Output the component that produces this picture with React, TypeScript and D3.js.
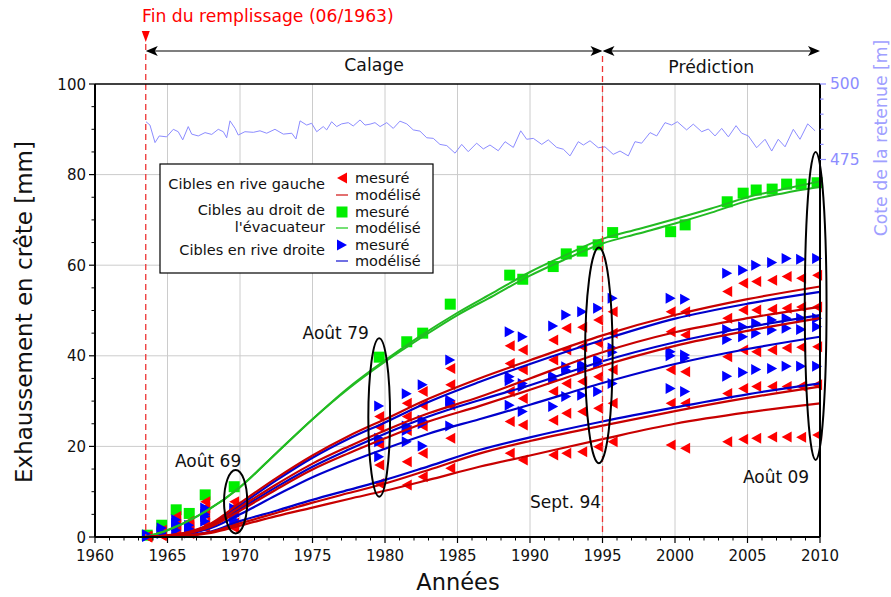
import * as d3 from "d3";

// survey dates (measured points)
const surveyYears = [1963.6, 1964.6, 1965.6, 1966.5, 1967.6, 1969.6, 1979.6, 1981.5, 1982.6, 1984.5, 1988.6, 1989.5, 1991.6, 1992.5, 1993.6, 1994.7, 1995.7, 1999.7, 2000.7, 2003.6, 2004.7, 2005.6, 2006.7, 2007.7, 2008.7, 2009.8];

const greenMeasured = [0.4, 2.6, 6.0, 5.2, 9.3, 11.1, 39.7, 43.1, 45.0, 51.4, 57.8, 56.9, 59.7, 62.5, 63.1, 64.5, 67.2, 67.4, 68.9, 74.0, 75.9, 76.6, 76.8, 77.9, 77.9, 78.2];

const redMeasured = [
  [0.2, 1.5, 4.5, 3.4, 7.8, 7.8, 26.6, 29.5, 32.1, 37.2, 42.2, 41.3, 43.5, 46.1, 46.3, 47.9, 49.7, 49.7, 49.7, 54.2, 56.0, 56.4, 56.7, 57.5, 57.1, 57.8],
  [0.1, 1.0, 3.5, 2.8, 6.5, 6.7, 24.3, 26.6, 29.1, 33.6, 38.3, 36.9, 39.1, 41.3, 42.0, 42.8, 45.0, 45.3, 44.6, 48.3, 50.1, 50.1, 50.3, 50.5, 50.8, 50.8],
  [0.1, 0.8, 2.8, 2.2, 4.9, 5.5, 20.5, 23.5, 24.5, 29.1, 32.1, 30.6, 32.1, 33.9, 34.3, 35.4, 36.9, 36.9, 36.5, 39.8, 41.3, 40.9, 41.3, 41.7, 41.9, 42.0],
  [0.0, 0.5, 1.5, 1.2, 3.0, 3.1, 15.9, 16.6, 18.5, 21.8, 25.5, 24.7, 25.8, 27.3, 27.7, 28.4, 29.5, 29.5, 29.5, 31.7, 32.8, 33.2, 33.2, 33.2, 33.3, 33.6],
  [0.0, 0.3, 1.0, 0.8, 2.0, 2.0, 11.8, 11.5, 13.3, 15.2, 18.5, 17.0, 18.1, 18.5, 18.8, 19.9, 21.0, 20.3, 19.6, 21.0, 21.6, 21.8, 22.1, 22.1, 22.0, 22.5],
];

const blueMeasured = [
  [0.5, 2.0, 3.8, 2.6, 6.4, 6.3, 28.9, 31.6, 33.6, 39.1, 45.3, 44.2, 46.6, 49.0, 49.7, 50.5, 52.7, 52.7, 52.5, 58.2, 58.9, 60.0, 60.6, 61.5, 61.3, 61.5],
  [0.3, 1.2, 3.0, 1.8, 5.0, 5.0, 21.8, 24.5, 25.8, 30.2, 35.4, 33.9, 35.5, 37.6, 38.0, 39.1, 41.7, 40.9, 40.2, 45.8, 46.4, 47.2, 47.9, 48.3, 48.3, 48.3],
  [0.2, 1.0, 2.5, 1.5, 4.5, 4.5, 21.0, 23.5, 25.0, 29.5, 34.5, 33.2, 34.8, 36.8, 37.2, 38.3, 40.8, 40.0, 39.5, 43.6, 44.2, 45.0, 45.7, 46.1, 45.8, 46.4],
  [0.1, 0.8, 1.5, 0.9, 3.5, 3.8, 17.7, 21.0, 20.1, 24.5, 29.1, 27.7, 28.8, 31.0, 31.3, 32.1, 33.9, 32.8, 32.1, 35.5, 36.3, 37.0, 37.2, 37.7, 37.7, 37.7],
];

// modelled displacements
const modelYears = [1963.5, 1966, 1968, 1970, 1972.5, 1975, 1977.5, 1980, 1983, 1986.5, 1990, 1995, 2000, 2005, 2010];

const redModel = [
  [0, 0.8, 3.0, 7.5, 13.0, 18.0, 22.3, 26.0, 30.5, 35.0, 39.0, 44.5, 49.0, 52.5, 55.3],
  [0, 0.7, 2.6, 6.6, 11.6, 16.2, 20.0, 23.5, 27.3, 30.9, 35.0, 40.8, 45.2, 48.3, 50.8],
  [0, 0.6, 2.3, 5.8, 10.5, 14.9, 18.5, 21.8, 25.5, 28.9, 32.5, 37.8, 42.2, 45.5, 48.3],
  [0, 0.3, 1.1, 3.0, 5.3, 7.6, 9.7, 11.8, 14.8, 18.4, 21.2, 24.6, 27.8, 30.7, 33.2],
  [0, 0.2, 0.9, 2.5, 4.6, 6.5, 8.4, 10.2, 12.6, 15.5, 18.0, 21.6, 25.0, 27.5, 29.5],
];

const blueModel = [
  [0, 0.7, 2.8, 7.0, 12.5, 17.5, 21.7, 25.3, 29.8, 34.2, 38.2, 43.5, 48.2, 51.5, 54.1],
  [0, 0.6, 2.4, 6.2, 11.0, 15.5, 19.3, 22.8, 26.6, 30.2, 33.5, 38.8, 43.0, 46.3, 49.0],
  [0, 0.5, 2.0, 5.0, 9.2, 13.2, 16.5, 19.5, 22.8, 26.0, 29.2, 34.0, 38.2, 41.5, 44.2],
  [0, 0.3, 1.2, 3.5, 5.8, 8.2, 10.4, 12.6, 15.6, 19.2, 22.0, 25.5, 28.6, 31.5, 33.9],
];

const greenModelYears = [1963.5, 1965, 1967, 1970, 1972.5, 1975, 1977.5, 1980, 1982.5, 1985, 1987.5, 1990, 1992.5, 1995, 1997.5, 2000, 2002.5, 2005, 2007.5, 2010];
const greenModel = [
  [0, 1.5, 4.5, 11, 18.5, 26, 33, 39, 44.5, 49.5, 54, 58.5, 62.3, 65.8, 68, 70.2, 72.5, 75, 76.8, 78.5],
  [0, 1.5, 4.5, 11, 18.5, 26, 32.8, 38.7, 44, 49, 53.3, 57.7, 61.4, 64.8, 67, 69.2, 71.6, 74.2, 75.9, 77.3],
];

// reservoir level (right axis)
const reservoirYears = [1963.52, 1963.79, 1964.14, 1964.43, 1964.94, 1965.40, 1965.74, 1966.05, 1966.43, 1966.67, 1967.12, 1967.59, 1968.05, 1968.50, 1968.85, 1969.08, 1969.31, 1969.66, 1969.88, 1970.34, 1970.92, 1971.38, 1971.84, 1972.41, 1972.99, 1973.57, 1973.86, 1974.14, 1974.60, 1974.94, 1975.29, 1975.74, 1975.98, 1976.32, 1976.67, 1977.01, 1977.47, 1977.81, 1978.28, 1978.62, 1978.97, 1979.31, 1979.66, 1980.12, 1980.57, 1981.03, 1981.50, 1981.95, 1982.41, 1982.88, 1983.33, 1983.79, 1984.26, 1984.83, 1985.29, 1985.74, 1986.32, 1986.78, 1987.24, 1987.81, 1988.28, 1988.85, 1989.36, 1989.77, 1990.23, 1990.81, 1991.26, 1991.84, 1992.30, 1992.76, 1993.33, 1993.68, 1994.14, 1994.71, 1995.17, 1995.74, 1996.21, 1996.78, 1997.24, 1997.70, 1998.28, 1998.74, 1999.31, 1999.77, 2000.16, 2000.80, 2001.26, 2001.84, 2002.30, 2002.76, 2003.22, 2003.68, 2004.21, 2004.60, 2005.06, 2005.63, 2006.21, 2006.67, 2007.12, 2007.59, 2008.16, 2008.62, 2009.15, 2009.66];
const reservoirLevel = [487.5, 486.4, 480.6, 482.8, 482.5, 485.0, 484.2, 481.5, 485.9, 483.4, 482.8, 483.9, 483.3, 485.0, 484.2, 482.2, 487.8, 485.3, 483.1, 484.2, 484.0, 484.5, 483.7, 485.0, 483.4, 483.7, 481.8, 487.8, 486.4, 487.0, 484.2, 485.9, 484.8, 487.5, 485.9, 486.8, 487.2, 486.1, 488.1, 486.4, 486.7, 487.2, 485.9, 487.2, 485.3, 487.7, 486.8, 484.8, 484.4, 482.2, 482.0, 480.0, 479.6, 477.1, 480.0, 477.6, 480.4, 478.5, 479.8, 477.9, 480.9, 479.0, 484.5, 481.7, 482.0, 480.0, 481.5, 479.0, 478.4, 476.2, 480.9, 479.8, 481.2, 478.9, 479.2, 476.7, 477.8, 476.2, 480.9, 480.4, 483.9, 482.8, 487.2, 486.4, 487.5, 484.8, 486.7, 484.2, 485.1, 482.8, 485.3, 482.5, 486.2, 483.7, 482.8, 478.9, 481.7, 477.8, 481.7, 479.2, 485.0, 481.7, 486.8, 484.5];

const xTicks = [1960, 1965, 1970, 1975, 1980, 1985, 1990, 1995, 2000, 2005, 2010];
const yTicks = [0, 20, 40, 60, 80, 100];
const rightTicks = [475, 500];

const fillEnd = 1963.5;
const calageEnd = 1995;

const ellipses = [
  { label: "Août 69", cx: 1969.7, cy: 7.8, rx: 0.8, ry: 7.0, lx: 1967.8, ly: 15.5 },
  { label: "Août 79", cx: 1979.6, cy: 26.4, rx: 0.75, ry: 17.5, lx: 1976.6, ly: 43.7 },
  { label: "Sept. 94", cx: 1994.75, cy: 40.1, rx: 0.95, ry: 23.8, lx: 1992.45, ly: 6.4 },
  { label: "Août 09", cx: 2009.7, cy: 51.0, rx: 0.75, ry: 34, lx: 2006.97, ly: 11.9 },
];

const W = 891;
const H = 597;
const FONT = "DejaVu Sans, sans-serif";

const x = d3.scaleLinear().domain([1960, 2010]).range([95, 820]);
const y = d3.scaleLinear().domain([0, 100]).range([537, 84]);
const yR = d3.scaleLinear().domain([350, 500]).range([537, 84]);

const RED = "#ff0000";
const BLUE = "#0000ff";
const GREEN = "#00ee00";
const RED_LINE = "#c80000";
const BLUE_LINE = "#0000cc";
const GREEN_LINE = "#22bb22";
const LEVEL = "#8c8cff";

const triLeft = (cx: number, cy: number) => `M${cx - 5},${cy} L${cx + 5},${cy - 5.5} L${cx + 5},${cy + 5.5} Z`;
const triRight = (cx: number, cy: number) => `M${cx + 5},${cy} L${cx - 5},${cy - 5.5} L${cx - 5},${cy + 5.5} Z`;

export default function App() {
  const modelLine = (years: number[]) =>
    d3
      .line<number>()
      .x((_, i) => x(years[i]))
      .y((d) => y(d))
      .curve(d3.curveMonotoneX);

  const levelLine = d3
    .line<number>()
    .x((_, i) => x(reservoirYears[i]))
    .y((d) => yR(d));

  const minorX = d3.range(1960, 2011, 1).filter((v) => v % 5 !== 0);
  const minorY = d3.range(0, 101, 5).filter((v) => v % 20 !== 0);
  const minorR = d3.range(475, 501, 5);

  const legendRows = [
    { y: 183, kind: "redTri", text: "mesuré" },
    { y: 200, kind: "redLine", text: "modélisé" },
    { y: 217, kind: "greenSq", text: "mesuré" },
    { y: 233, kind: "greenLine", text: "modélisé" },
    { y: 250, kind: "blueTri", text: "mesuré" },
    { y: 266, kind: "blueLine", text: "modélisé" },
  ];

  return (
    <svg width={W} height={H} style={{ position: "absolute", left: 0, top: 0 }} fontFamily={FONT}>
      <rect width={W} height={H} fill="#fff" />

      {/* grid */}
      {xTicks.slice(1, -1).map((t) => (
        <line key={"gx" + t} x1={x(t)} x2={x(t)} y1={y(0)} y2={y(100)} stroke="#cccccc" strokeWidth={1} />
      ))}
      {yTicks.slice(1, -1).map((t) => (
        <line key={"gy" + t} x1={x(1960)} x2={x(2010)} y1={y(t)} y2={y(t)} stroke="#cccccc" strokeWidth={1} />
      ))}

      {/* reservoir level */}
      <path d={levelLine(reservoirLevel) || ""} fill="none" stroke={LEVEL} strokeWidth={1} />

      {/* measured points */}
      {greenMeasured.map((v, i) => (
        <rect key={"gm" + i} x={x(surveyYears[i]) - 5.5} y={y(v) - 5.5} width={11} height={11} fill={GREEN} />
      ))}
      {redMeasured.map((s, k) =>
        s.map((v, i) => <path key={`rm${k}-${i}`} d={triLeft(x(surveyYears[i]), y(v))} fill={RED} />)
      )}
      {blueMeasured.map((s, k) =>
        s.map((v, i) => <path key={`bm${k}-${i}`} d={triRight(x(surveyYears[i]), y(v))} fill={BLUE} />)
      )}

      {/* model curves */}
      {greenModel.map((s, k) => (
        <path key={"gl" + k} d={modelLine(greenModelYears)(s) || ""} fill="none" stroke={GREEN_LINE} strokeWidth={2} />
      ))}
      {blueModel.map((s, k) => (
        <path key={"bl" + k} d={modelLine(modelYears)(s) || ""} fill="none" stroke={BLUE_LINE} strokeWidth={2.2} />
      ))}
      {redModel.map((s, k) => (
        <path key={"rl" + k} d={modelLine(modelYears)(s) || ""} fill="none" stroke={RED_LINE} strokeWidth={2.2} />
      ))}

      {/* dashed markers of the periods */}
      <line x1={x(fillEnd)} x2={x(fillEnd)} y1={44} y2={y(0)} stroke="#ee3333" strokeWidth={1.3} strokeDasharray="6,4" />
      <line x1={x(calageEnd)} x2={x(calageEnd)} y1={56} y2={y(0)} stroke="#ee3333" strokeWidth={1.3} strokeDasharray="6,4" />

      {/* ellipses */}
      {ellipses.map((e) => (
        <g key={e.label}>
          <ellipse
            cx={x(e.cx)}
            cy={y(e.cy)}
            rx={x(e.cx + e.rx) - x(e.cx)}
            ry={y(0) - y(e.ry)}
            fill="none"
            stroke="#000"
            strokeWidth={2}
          />
          <text x={x(e.lx)} y={y(e.ly)} fontSize={17} textAnchor="middle" fill="#111">
            {e.label}
          </text>
        </g>
      ))}

      {/* frame */}
      <line x1={x(1960)} x2={x(2010)} y1={y(100)} y2={y(100)} stroke="#000" strokeWidth={1.5} />
      <line x1={x(2010)} x2={x(2010)} y1={y(100)} y2={y(0)} stroke="#000" strokeWidth={2} />
      <line x1={x(1960)} x2={x(1960)} y1={y(100)} y2={y(0)} stroke="#000" strokeWidth={2} />
      <line x1={x(1960)} x2={x(2010)} y1={y(0)} y2={y(0)} stroke="#000" strokeWidth={2} />

      {/* x axis */}
      {xTicks.map((t) => (
        <g key={"xt" + t}>
          <line x1={x(t)} x2={x(t)} y1={y(0)} y2={y(0) + 6} stroke="#000" strokeWidth={1.2} />
          <text x={x(t)} y={561} fontSize={15} textAnchor="middle" fill="#111">
            {t}
          </text>
        </g>
      ))}
      {minorX.map((t) => (
        <line key={"xm" + t} x1={x(t)} x2={x(t)} y1={y(0)} y2={y(0) + 3.5} stroke="#000" strokeWidth={1} />
      ))}
      <text x={458} y={590} fontSize={22.5} textAnchor="middle" fill="#111">
        Années
      </text>

      {/* y axis */}
      {yTicks.map((t) => (
        <g key={"yt" + t}>
          <line x1={x(1960) - 6} x2={x(1960)} y1={y(t)} y2={y(t)} stroke="#000" strokeWidth={1.2} />
          <text x={86} y={y(t) + 5.5} fontSize={15} textAnchor="end" fill="#111">
            {t}
          </text>
        </g>
      ))}
      {minorY.map((t) => (
        <line key={"ym" + t} x1={x(1960) - 3.5} x2={x(1960)} y1={y(t)} y2={y(t)} stroke="#000" strokeWidth={1} />
      ))}
      <text transform={`translate(32,${312}) rotate(-90)`} fontSize={23} textAnchor="middle" fill="#111">
        Exhaussement en crête [mm]
      </text>

      {/* right axis */}
      {minorR.map((t) => (
        <line
          key={"rm" + t}
          x1={x(2010)}
          x2={x(2010) + (t % 25 === 0 ? 6 : 3.5)}
          y1={yR(t)}
          y2={yR(t)}
          stroke={LEVEL}
          strokeWidth={1.2}
        />
      ))}
      {rightTicks.map((t) => (
        <text key={"rt" + t} x={830} y={yR(t) + 5} fontSize={15.5} fill={LEVEL}>
          {t}
        </text>
      ))}
      <text transform={`translate(887,${138}) rotate(-90)`} fontSize={17.3} textAnchor="middle" fill="#a0a0ff">
        Cote de la retenue [m]
      </text>

      {/* top annotations */}
      <text x={142} y={22} fontSize={17.2} fill="#ff0000">
        Fin du remplissage (06/1963)
      </text>
      <path d={`M${x(fillEnd) - 4},31 L${x(fillEnd) + 4},31 L${x(fillEnd)},42 Z`} fill="#ff0000" />
      <line x1={x(fillEnd) + 2} x2={x(calageEnd) - 2} y1={51} y2={51} stroke="#000" strokeWidth={1.2} />
      <line x1={x(calageEnd) + 2} x2={x(2010) - 2} y1={51} y2={51} stroke="#000" strokeWidth={1.2} />
      <path d={`M${x(fillEnd)},51 l12,-5 l-3,5 l3,5 Z`} fill="#000" />
      <path d={`M${x(calageEnd)},51 l-12,-5 l3,5 l-3,5 Z`} fill="#000" />
      <path d={`M${x(calageEnd)},51 l12,-5 l-3,5 l3,5 Z`} fill="#000" />
      <path d={`M${x(2010)},51 l-12,-5 l3,5 l-3,5 Z`} fill="#000" />
      <text x={(x(fillEnd) + x(calageEnd)) / 2} y={71} fontSize={17.3} textAnchor="middle" fill="#111">
        Calage
      </text>
      <text x={(x(calageEnd) + x(2010)) / 2} y={73} fontSize={17.3} textAnchor="middle" fill="#111">
        Prédiction
      </text>

      {/* legend */}
      <g>
        <rect x={160} y={164} width={273} height={109} fill="#fff" stroke="#000" strokeWidth={1.2} />
        <text x={325} y={189} fontSize={14.5} textAnchor="end" fill="#111">
          Cibles en rive gauche
        </text>
        <text x={325} y={215} fontSize={14.5} textAnchor="end" fill="#111">
          Cibles au droit de
        </text>
        <text x={325} y={232} fontSize={14.5} textAnchor="end" fill="#111">
          l'évacuateur
        </text>
        <text x={325} y={255} fontSize={14.5} textAnchor="end" fill="#111">
          Cibles en rive droite
        </text>
        {legendRows.map((r) => {
          const mx = 342;
          const my = r.y - 5;
          let mark = null;
          if (r.kind === "redTri") mark = <path d={triLeft(mx, my)} fill={RED} />;
          if (r.kind === "blueTri") mark = <path d={triRight(mx, my)} fill={BLUE} />;
          if (r.kind === "greenSq") mark = <rect x={mx - 5.5} y={my - 5.5} width={11} height={11} fill={GREEN} />;
          if (r.kind === "redLine") mark = <line x1={mx - 6} x2={mx + 6} y1={my} y2={my} stroke="#e06060" strokeWidth={1.8} />;
          if (r.kind === "greenLine") mark = <line x1={mx - 6} x2={mx + 6} y1={my} y2={my} stroke="#66dd66" strokeWidth={1.8} />;
          if (r.kind === "blueLine") mark = <line x1={mx - 6} x2={mx + 6} y1={my} y2={my} stroke="#6060e0" strokeWidth={1.8} />;
          return (
            <g key={r.kind}>
              {mark}
              <text x={355} y={r.y} fontSize={14.5} fill="#111">
                {r.text}
              </text>
            </g>
          );
        })}
      </g>
    </svg>
  );
}
